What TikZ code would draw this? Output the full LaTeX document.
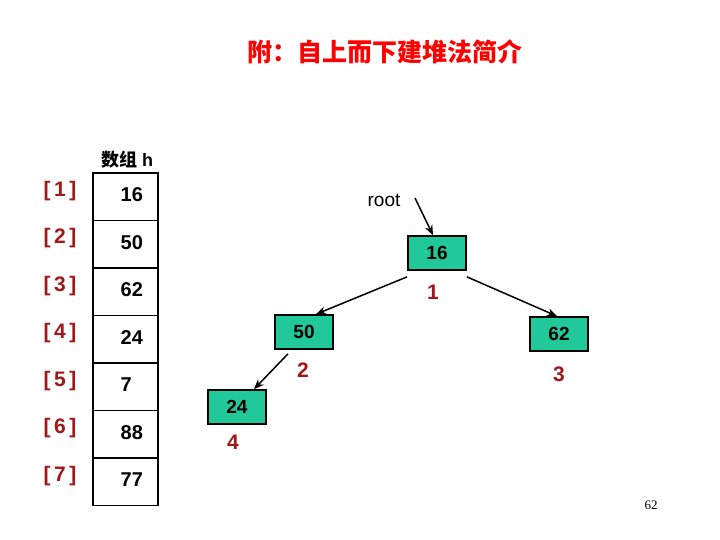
\documentclass[tikz,border=0pt]{standalone}
\usepackage{fontspec}
\setmainfont{Liberation Sans}
\newfontfamily\cjk{Noto Sans CJK SC}
\newfontfamily\pagefont{Liberation Serif}
\definecolor{idxred}{HTML}{A01818}
\definecolor{heapgreen}{HTML}{20C89A}
\tikzset{
  cell/.style={draw, line width=1.6pt, minimum width=65pt, minimum height=47.5pt, inner sep=0pt},
  heap/.style={draw, line width=1.6pt, fill=heapgreen, minimum width=58pt, minimum height=34pt, inner sep=0pt, font=\bfseries\fontsize{19}{19}\selectfont},
  idx/.style={text=idxred, font=\bfseries\fontsize{21}{21}\selectfont},
  arr/.style={line width=1.5pt, -{Stealth[length=10pt,width=8pt]}}
}
\usetikzlibrary{arrows.meta}
\begin{document}
\begin{tikzpicture}[x=1pt,y=-1pt]
  \useasboundingbox (0,0) rectangle (720,540);
  \node[text=red, font=\cjk\bfseries\fontsize{25}{25}\selectfont] (title) at (385,52) {附：自上而下建堆法简介};
  \node[font=\bfseries\fontsize{18}{18}\selectfont] (hname) at (127,160) {{\cjk 数组} h};
  % array h
  \foreach \v [count=\i] in {16,50,62,24,7,88,77} {
    \node[cell] (c\i) at (125.5,{173+23.75+(\i-1)*47.5}) {};
    \node[anchor=west, font=\bfseries\fontsize{20}{20}\selectfont] (v\i) at ([xshift=25pt,yshift=2pt]c\i.west) {\v};
    \node[idx] (i\i) at (60,{173+18+(\i-1)*47.5}) {[\,\i\,]};
  }
  % heap tree
  \node[heap] (n1) at (437,253) {16};
  \node[heap] (n2) at (304,332) {50};
  \node[heap] (n3) at (559,334) {62};
  \node[heap] (n4) at (237,407) {24};
  \node[idx] (l1) at (433,292) {1};
  \node[idx] (l2) at (303,370) {2};
  \node[idx] (l3) at (559,374) {3};
  \node[idx] (l4) at (233,442) {4};
  \node[font=\fontsize{19}{19}\selectfont] (root) at (384,200) {root};
  \coordinate (rt) at (415,198);
  \draw[arr] (rt) -- ([xshift=-4pt]n1.north);
  \draw[arr] ([yshift=-6pt]n1.south west) -- ([xshift=12pt]n2.north);
  \draw[arr] ([yshift=-6pt]n1.south east) -- ([xshift=-2pt]n3.north);
  \draw[arr] ([xshift=-16pt,yshift=-4pt]n2.south) -- ([xshift=17pt]n4.north);
  \node[font=\pagefont\fontsize{13}{13}\selectfont] (pg) at (651,505) {62};
\end{tikzpicture}
\end{document}
